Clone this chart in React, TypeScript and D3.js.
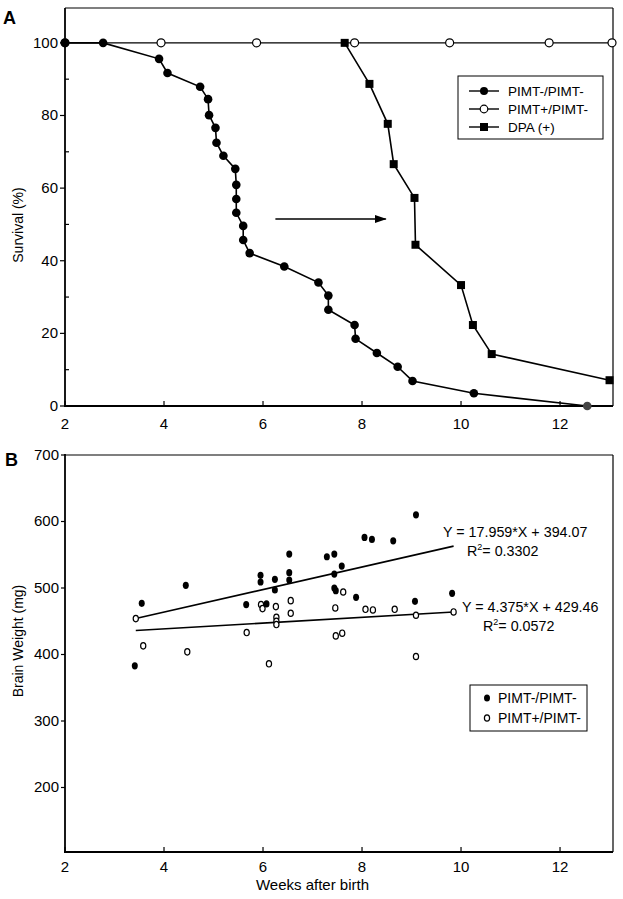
import React from "react";
import * as d3 from "d3";

// ---------- Panel A data (survival) ----------
const koWeeks = [2.0, 2.77, 3.9, 4.07, 4.73, 4.89, 4.91, 5.04, 5.06, 5.2, 5.44, 5.46, 5.46, 5.46, 5.6, 5.6, 5.73, 6.43, 7.12, 7.32, 7.32, 7.85, 7.87, 8.3, 8.72, 9.02, 10.26, 12.55];
const koSurvival = [100, 100, 95.6, 91.7, 87.9, 84.5, 80.1, 76.6, 72.5, 68.9, 65.3, 60.9, 57.0, 53.2, 49.6, 45.7, 42.1, 38.4, 34.0, 30.4, 26.5, 22.3, 18.5, 14.6, 10.8, 6.9, 3.5, 0];
const hetWeeks = [2.0, 3.94, 5.87, 7.85, 9.77, 11.78, 13.05];
const hetSurvival = [100, 100, 100, 100, 100, 100, 100];
const dpaWeeks = [7.65, 8.15, 8.52, 8.64, 9.06, 9.08, 10.0, 10.24, 10.62, 13.0];
const dpaSurvival = [100, 88.7, 77.7, 66.6, 57.3, 44.4, 33.3, 22.3, 14.3, 7.1];
const arrowWeeks = [6.25, 8.48];
const arrowSurvival = [51.5, 51.5];
const legendALabels = ["PIMT-/PIMT-", "PIMT+/PIMT-", "DPA (+)"];
const xTicks = [2, 4, 6, 8, 10, 12];
const yTicksA = [0, 20, 40, 60, 80, 100];
const yMinorA = [10, 30, 50, 70, 90];

// ---------- Panel B data (brain weight) ----------
const koBWWeeks = [3.41, 3.55, 4.44, 5.66, 5.95, 5.95, 6.07, 6.24, 6.24, 6.53, 6.53, 6.53, 7.29, 7.44, 7.44, 7.44, 7.47, 7.59, 7.88, 8.05, 8.2, 8.63, 9.07, 9.09, 9.82];
const koBWmg = [383, 477, 504, 475, 519, 509, 476, 513, 497, 551, 523, 512, 547, 551, 521, 500, 496, 533, 486, 576, 573, 571, 480, 610, 492];
const hetBWWeeks = [3.43, 3.58, 4.47, 5.67, 5.96, 5.99, 6.12, 6.26, 6.27, 6.27, 6.27, 6.56, 6.56, 7.46, 7.47, 7.6, 7.62, 8.07, 8.22, 8.66, 9.09, 9.09, 9.85];
const hetBWmg = [454, 413, 404, 433, 475, 469, 386, 472, 456, 450, 445, 481, 462, 470, 428, 432, 494, 468, 467, 468, 459, 397, 464];
const fitKoWeeks = [3.43, 9.85];
const fitKoMg = [454, 563];
const fitHetWeeks = [3.43, 9.85];
const fitHetMg = [436, 464];
const eqKo = ["Y = 17.959*X + 394.07", "0.3302"];
const eqHet = ["Y = 4.375*X + 429.46", "0.0572"];
const yTicksB = [200, 300, 400, 500, 600, 700];
const legendBLabels = ["PIMT-/PIMT-", "PIMT+/PIMT-"];

const FONT = "'Liberation Sans', Arial, Helvetica, sans-serif";

export default function App() {
  const xA = d3.scaleLinear().domain([2, 13.07]).range([65, 613]);
  const yA = d3.scaleLinear().domain([0, 109.6]).range([406, 8]);
  const xB = d3.scaleLinear().domain([2, 13.07]).range([65, 613]);
  const yB = d3.scaleLinear().domain([103, 700]).range([852, 455]);

  const line = (xs: number[], ys: number[], sx: any, sy: any) =>
    d3.line<number>().x((_, i) => sx(xs[i])).y((_, i) => sy(ys[i]))(xs) || "";

  const sq = 8;

  return (
    <svg width={623} height={899} style={{ position: "absolute", left: 0, top: 0, background: "#fff" }} fontFamily={FONT}>
      <defs>
        <marker id="arrowhead" viewBox="0 0 12 8" refX={11} refY={4} markerWidth={12} markerHeight={8} markerUnits="userSpaceOnUse" orient="auto">
          <path d="M0,0 L12,4 L0,8 Z" fill="#000" />
        </marker>
      </defs>
      <rect width={623} height={899} fill="#fff" />

      {/* ================= Panel A ================= */}
      <text x={3} y={24} fontSize={18} fontWeight="bold">A</text>
      <line x1={xA(2)} x2={613} y1={8} y2={8} stroke="#000" strokeWidth={1.2} />
      <line x1={613} x2={613} y1={8} y2={406} stroke="#000" strokeWidth={1.2} />
      <line x1={xA(2)} x2={xA(2)} y1={8} y2={407} stroke="#000" strokeWidth={1.8} />
      <line x1={64} x2={613} y1={406} y2={406} stroke="#000" strokeWidth={1.8} />
      {yTicksA.map((t) => (
        <g key={"ya" + t}>
          <line x1={60} x2={65} y1={yA(t)} y2={yA(t)} stroke="#000" strokeWidth={1.2} />
          <text x={58} y={yA(t) + 5} fontSize={15} textAnchor="end">{t}</text>
        </g>
      ))}
      {yMinorA.map((t) => (
        <line key={"ym" + t} x1={65} x2={69} y1={yA(t)} y2={yA(t)} stroke="#000" strokeWidth={1.2} />
      ))}
      {xTicks.map((t) => (
        <g key={"xa" + t}>
          <line x1={xA(t)} x2={xA(t)} y1={406} y2={401} stroke="#000" strokeWidth={1.2} />
          <text x={xA(t)} y={429} fontSize={15} textAnchor="middle">{t}</text>
        </g>
      ))}
      <text transform={`translate(23,225) rotate(-90)`} fontSize={14} textAnchor="middle">Survival (%)</text>

      <path d={line(hetWeeks, hetSurvival, xA, yA)} fill="none" stroke="#000" strokeWidth={1.4} />
      {hetWeeks.map((w, i) => (
        <circle key={"h" + i} cx={xA(w)} cy={yA(hetSurvival[i])} r={4} fill="#fff" stroke="#000" strokeWidth={1.2} />
      ))}
      <path d={line(dpaWeeks, dpaSurvival, xA, yA)} fill="none" stroke="#000" strokeWidth={1.6} />
      {dpaWeeks.map((w, i) => (
        <rect key={"d" + i} x={xA(w) - sq / 2} y={yA(dpaSurvival[i]) - sq / 2} width={sq} height={sq} fill="#000" />
      ))}
      <path d={line(koWeeks, koSurvival, xA, yA)} fill="none" stroke="#000" strokeWidth={1.6} />
      {koWeeks.map((w, i) => (
        <circle key={"k" + i} cx={xA(w)} cy={yA(koSurvival[i])} r={4.3} fill={i === koWeeks.length - 1 ? "#444" : "#000"} />
      ))}
      <line x1={xA(arrowWeeks[0])} x2={xA(arrowWeeks[1])} y1={yA(arrowSurvival[0])} y2={yA(arrowSurvival[1])} stroke="#000" strokeWidth={1.5} markerEnd="url(#arrowhead)" />

      <rect x={458} y={76} width={145} height={63} fill="#fff" stroke="#000" strokeWidth={1} />
      {legendALabels.map((lab, i) => {
        const cy = 91 + i * 18;
        return (
          <g key={"la" + i}>
            <line x1={469} x2={499} y1={cy} y2={cy} stroke="#000" strokeWidth={1.4} />
            {i === 0 && <circle cx={484} cy={cy} r={4} fill="#000" />}
            {i === 1 && <circle cx={484} cy={cy} r={3.8} fill="#fff" stroke="#000" strokeWidth={1.2} />}
            {i === 2 && <rect x={480} y={cy - 4} width={8} height={8} fill="#000" />}
            <text x={508} y={cy + 5} fontSize={13.5}>{lab}</text>
          </g>
        );
      })}

      {/* ================= Panel B ================= */}
      <text x={5} y={466} fontSize={18} fontWeight="bold">B</text>
      <line x1={xB(2)} x2={613} y1={455} y2={455} stroke="#000" strokeWidth={1.2} />
      <line x1={613} x2={613} y1={455} y2={852} stroke="#000" strokeWidth={1.2} />
      <line x1={xB(2)} x2={xB(2)} y1={454} y2={853} stroke="#000" strokeWidth={1.8} />
      <line x1={64} x2={613} y1={852} y2={852} stroke="#000" strokeWidth={1.8} />
      {yTicksB.map((t) => (
        <g key={"yb" + t}>
          <line x1={61} x2={65} y1={yB(t)} y2={yB(t)} stroke="#000" strokeWidth={1.2} />
          <text x={59} y={yB(t) + 5} fontSize={15} textAnchor="end">{t}</text>
        </g>
      ))}
      {xTicks.map((t) => (
        <g key={"xb" + t}>
          <line x1={xB(t)} x2={xB(t)} y1={852} y2={847} stroke="#000" strokeWidth={1.2} />
          <text x={xB(t)} y={872} fontSize={15} textAnchor="middle">{t}</text>
        </g>
      ))}
      <text x={xB(7)} y={890} fontSize={15} textAnchor="middle">Weeks after birth</text>
      <text transform={`translate(23,641) rotate(-90)`} fontSize={14} textAnchor="middle">Brain Weight (mg)</text>

      <path d={line(fitKoWeeks, fitKoMg, xB, yB)} fill="none" stroke="#000" strokeWidth={1.6} />
      <path d={line(fitHetWeeks, fitHetMg, xB, yB)} fill="none" stroke="#000" strokeWidth={1.6} />
      {hetBWWeeks.map((w, i) => (
        <ellipse key={"hb" + i} cx={xB(w)} cy={yB(hetBWmg[i])} rx={2.6} ry={3.2} fill="#fff" stroke="#000" strokeWidth={1.2} />
      ))}
      {koBWWeeks.map((w, i) => (
        <ellipse key={"kb" + i} cx={xB(w)} cy={yB(koBWmg[i])} rx={3} ry={3.6} fill="#000" />
      ))}

      <text x={443} y={537} fontSize={14.3}>{eqKo[0]}</text>
      <text x={467} y={556} fontSize={14.3}>
        R<tspan dy={-6} fontSize={9}>2</tspan><tspan dy={6}>= {eqKo[1]}</tspan>
      </text>
      <text x={462} y={612} fontSize={14.3}>{eqHet[0]}</text>
      <text x={483} y={631} fontSize={14.3}>
        R<tspan dy={-6} fontSize={9}>2</tspan><tspan dy={6}>= {eqHet[1]}</tspan>
      </text>

      <rect x={470} y={685} width={117} height={46} fill="#fff" stroke="#000" strokeWidth={1} />
      {legendBLabels.map((lab, i) => {
        const cy = 698 + i * 20;
        return (
          <g key={"lb" + i}>
            {i === 0 ? (
              <ellipse cx={487} cy={cy} rx={3} ry={3.6} fill="#000" />
            ) : (
              <ellipse cx={487} cy={cy} rx={2.6} ry={3.2} fill="#fff" stroke="#000" strokeWidth={1.2} />
            )}
            <text x={498} y={cy + 5} fontSize={14}>{lab}</text>
          </g>
        );
      })}
    </svg>
  );
}
